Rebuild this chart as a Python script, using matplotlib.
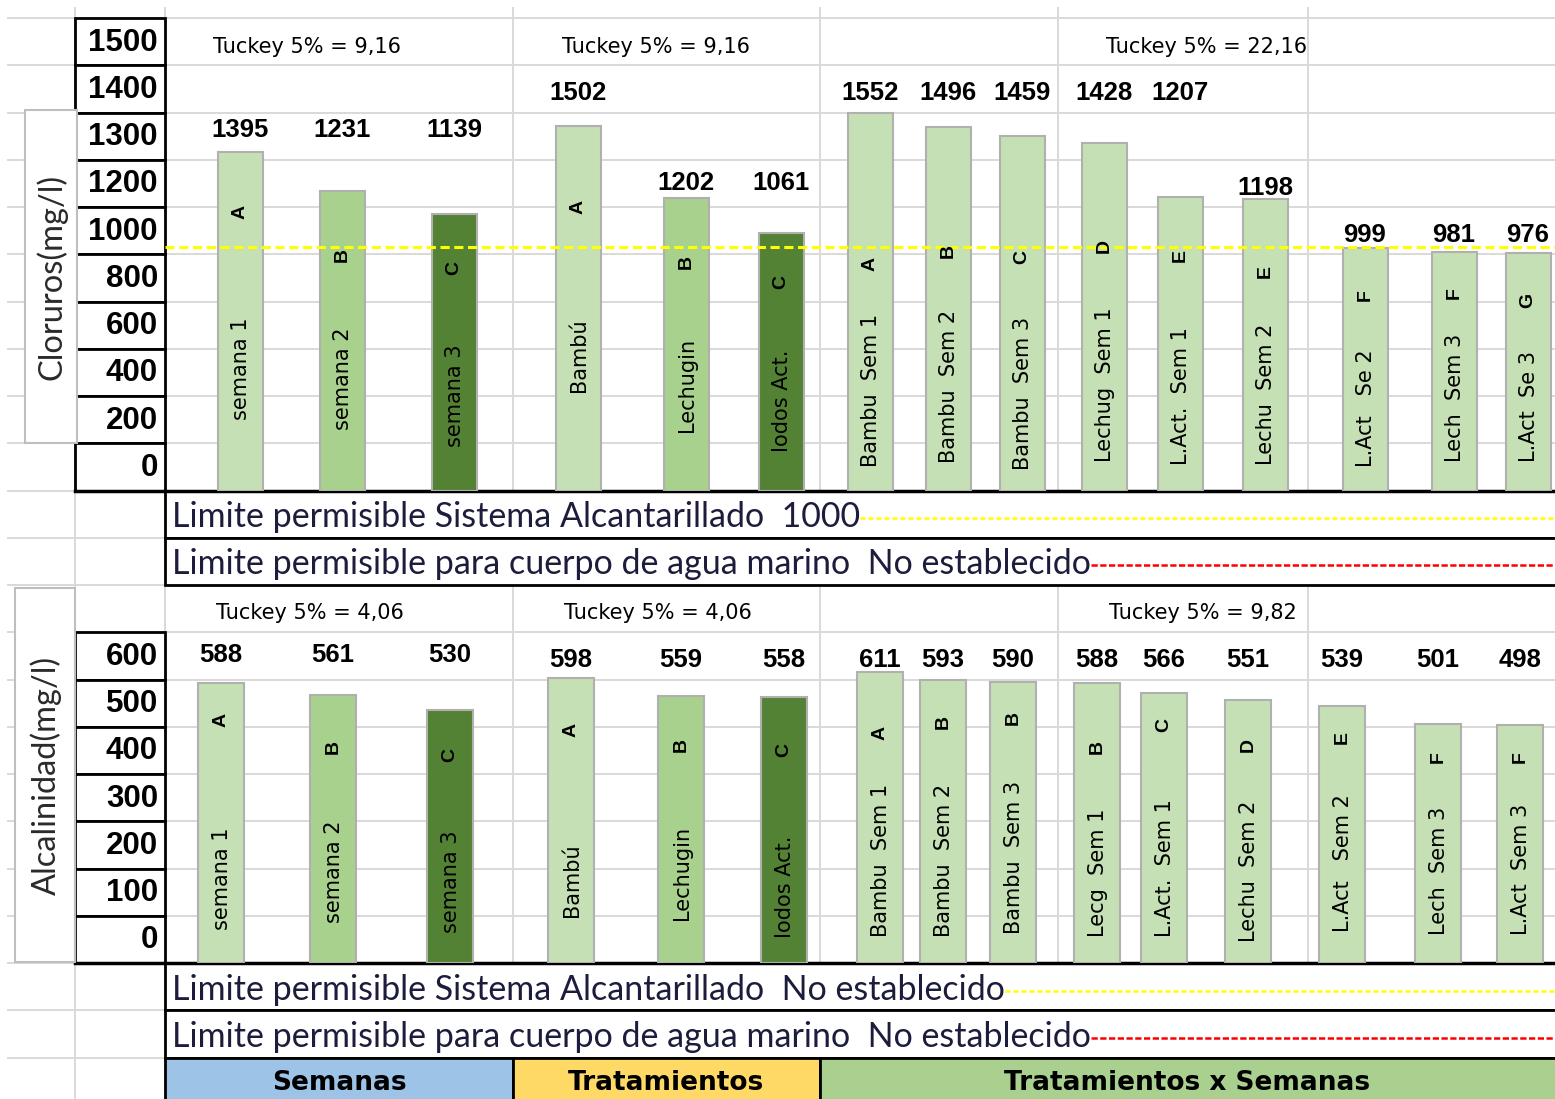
import matplotlib
matplotlib.use("Agg")
import matplotlib.pyplot as plt
from matplotlib.patches import Rectangle

# ---- datos: cloruros ----
cl_names = ["semana 1", "semana 2", "semana 3", "Bambú", "Lechugin", "Iodos Act.",
            "Bambu  Sem 1", "Bambu  Sem 2", "Bambu  Sem 3", "Lechug  Sem 1", "L.Act.  Sem 1",
            "Lechu  Sem 2", "L.Act   Se 2", "Lech  Sem 3", "L.Act  Se 3"]
cl_values = [1395, 1231, 1139, 1502, 1202, 1061, 1552, 1496, 1459, 1428, 1207, 1198, 999, 981, 976]
cl_letters = ["A", "B", "C", "A", "B", "C", "A", "B", "C", "D", "E", "E", "F", "F", "G"]
cl_ticks = ["1500", "1400", "1300", "1200", "1000", "800", "600", "400", "200", "0"]
cl_tukey = ["Tuckey 5% = 9,16", "Tuckey 5% = 9,16", "Tuckey 5% = 22,16"]
cl_limit = 1000
cl_limit_txt = ["Limite permisible Sistema Alcantarillado  1000",
                "Limite permisible para cuerpo de agua marino  No establecido"]

# ---- datos: alcalinidad ----
al_names = ["semana 1", "semana 2", "semana 3", "Bambú", "Lechugin", "Iodos Act.",
            "Bambu  Sem 1", "Bambu  Sem 2", "Bambu  Sem 3", "Lecg  Sem 1", "L.Act.  Sem 1",
            "Lechu  Sem 2", "L.Act   Sem 2", "Lech  Sem 3", "L.Act  Sem 3"]
al_values = [588, 561, 530, 598, 559, 558, 611, 593, 590, 588, 566, 551, 539, 501, 498]
al_letters = ["A", "B", "C", "A", "B", "C", "A", "B", "B", "B", "C", "D", "E", "F", "F"]
al_ticks = ["600", "500", "400", "300", "200", "100", "0"]
al_tukey = ["Tuckey 5% = 4,06", "Tuckey 5% = 4,06", "Tuckey 5% = 9,82"]
al_limit_txt = ["Limite permisible Sistema Alcantarillado  No establecido",
                "Limite permisible para cuerpo de agua marino  No establecido"]

groups = ["Semanas", "Tratamientos", "Tratamientos x Semanas"]
bar_shade = [0, 1, 2, 0, 1, 2] + [0] * 9

# ---- layout (pixels of the sheet) ----
W, H = 1555, 1099
ROW = 47.25
rows_y = [18 + ROW * k for k in range(24)]
cols_x = [75, 165, 513, 820, 1058, 1308]
shades = ["#C5E0B4", "#A9D18E", "#548235"]
group_colors = ["#9DC3E6", "#FFD966", "#A9D08E"]
group_x = [165, 513, 820, W + 5]

cl_x = [240, 342, 454, 578, 686, 781, 870, 948, 1022, 1104, 1180, 1265, 1365, 1454, 1528]
cl_lab_y = [130, 130, 130, 93, 183, 183, 93, 93, 93, 93, 93, 188, 235, 235, 235]
cl_let_y = [212, 255, 268, 207, 262, 282, 264, 251, 257, 246, 255, 272, 295, 293, 300]
cl_name_y = [420, 430, 447, 392, 432, 452, 467, 463, 470, 462, 465, 465, 467, 462, 462]
cl_tukey_x = [307, 656, 1207]

al_x = [221, 333, 450, 571, 681, 784, 880, 943, 1013, 1097, 1164, 1248, 1342, 1438, 1520]
al_lab_y = [655, 655, 655] + [660] * 12
al_let_y = [720, 747, 755, 730, 745, 750, 733, 722, 718, 747, 725, 745, 737, 757, 757]
al_name_y = [930, 923, 933, 917, 920, 938, 937, 937, 934, 937, 937, 942, 932, 935, 935]
al_tukey_x = [310, 658, 1203]

GRID = "#D9D9D9"
NARROW = ["Liberation Sans Narrow", "DejaVu Sans"]
ARIAL = ["Liberation Sans", "DejaVu Sans"]
SHEET = ["Lato", "DejaVu Sans"]

fig = plt.figure(figsize=(W / 100, H / 100), dpi=100)


def pixel_axes(label):
    a = fig.add_axes([0, 0, 1, 1], label=label)
    a.set_xlim(0, W)
    a.set_ylim(H, 0)
    a.axis("off")
    a.patch.set_alpha(0)
    return a


bg = pixel_axes("bg")

# spreadsheet grid
for y in rows_y:
    bg.plot([8, W], [y, y], color=GRID, lw=1.4, zorder=0)
for x in cols_x:
    bg.plot([x, x], [8, H], color=GRID, lw=1.4, zorder=0)


def tick_column(labels, first_row):
    for i, lab in enumerate(labels):
        y0 = rows_y[first_row + i]
        bg.add_patch(Rectangle((75, y0), 90, ROW, facecolor="white",
                               edgecolor="black", lw=2, zorder=2))
        bg.text(158, y0 + ROW / 2 + 1, lab, ha="right", va="center", fontsize=22.5,
                fontweight="bold", family=ARIAL, zorder=3)


def ylabel_box(x0, y0, w, h, text):
    bg.add_patch(Rectangle((x0, y0), w, h, facecolor="white", edgecolor="#BFBFBF",
                           lw=1.5, zorder=4))
    bg.text(x0 + w / 2 + 1, y0 + h / 2, text, rotation=90, ha="center", va="center",
            fontsize=23.5, family=SHEET, color="#2a2a2a", zorder=5)


def limit_rows(texts, first_row, colors, dashes):
    handles = []
    for i, t in enumerate(texts):
        y0 = rows_y[first_row + i]
        bg.add_patch(Rectangle((165, y0), W - 160, ROW, facecolor="white",
                               edgecolor="black", lw=2, zorder=2))
        handles.append(bg.text(172, y0 + ROW / 2 + 3, t, ha="left", va="center",
                               fontsize=24.5, family=SHEET, color="#1c1c3c", zorder=3))
    return list(zip(handles, colors, dashes))


tick_column(cl_ticks, 0)
tick_column(al_ticks, 13)
ylabel_box(25, 110, 52, 333, "Cloruros(mg/l)")
ylabel_box(15, 588, 60, 374, "Alcalinidad(mg/l)")

lines_todo = []
lines_todo += limit_rows(cl_limit_txt, 10, ["#FFFF00", "#FF0000"], [(0, (2, 1.2)), (0, (2.5, 1))])
lines_todo += limit_rows(al_limit_txt, 20, ["#FFFF00", "#FF0000"], [(0, (2, 1.2)), (0, (2.5, 1))])

# baselines of both charts
bg.plot([75, W], [rows_y[10], rows_y[10]], color="black", lw=2.5, zorder=3)
bg.plot([75, W], [rows_y[20], rows_y[20]], color="black", lw=2.5, zorder=3)

# group labels row
for i, g in enumerate(groups):
    bg.add_patch(Rectangle((group_x[i], rows_y[22]), group_x[i + 1] - group_x[i], 60,
                           facecolor=group_colors[i], edgecolor="black", lw=2, zorder=2))
    bg.text((group_x[i] + min(group_x[i + 1], W)) / 2, rows_y[22] + 26, g, ha="center",
            va="center", fontsize=19, fontweight="bold", family=NARROW, zorder=3)

# Tukey notes
for x, t in zip(cl_tukey_x, cl_tukey):
    bg.text(x, 47, t, ha="center", va="center", fontsize=15, family=NARROW)
for x, t in zip(al_tukey_x, al_tukey):
    bg.text(x, 613, t, ha="center", va="center", fontsize=15, family=NARROW)


# ---- bar charts ----
def bar_axes(top_px, bottom_px, ymax):
    a = fig.add_axes([165 / W, 1 - bottom_px / H, (W - 165) / W, (bottom_px - top_px) / H])
    a.set_xlim(165, W)
    a.set_ylim(0, ymax)
    a.axis("off")
    a.patch.set_alpha(0)
    return a


ax1 = bar_axes(rows_y[0], rows_y[10], (rows_y[10] - rows_y[0]) / 0.243)
ax1.bar(cl_x, cl_values, width=45, color=[shades[s] for s in bar_shade],
        edgecolor="#B0B0B0", linewidth=1.5, zorder=2)
ax1.axhline(cl_limit, color="#FFFF00", lw=2.2, ls=(0, (3, 1.5)), zorder=3)

ax2 = bar_axes(rows_y[12], rows_y[20], (rows_y[20] - rows_y[12]) / 0.477)
ax2.bar(al_x, al_values, width=46, color=[shades[s] for s in bar_shade],
        edgecolor="#B0B0B0", linewidth=1.5, zorder=2)

over = pixel_axes("over")


def bar_texts(xs, values, lab_y, letters, let_y, names, name_y):
    for i, x in enumerate(xs):
        over.text(x, lab_y[i], str(values[i]), ha="center", va="center", fontsize=18.5,
                  fontweight="bold", family=ARIAL)
        over.text(x, let_y[i], letters[i], rotation=90, ha="center", va="center",
                  fontsize=14, fontweight="bold", family=ARIAL)
        # va is in screen space: the lower end of the rotated name sits at name_y
        over.text(x + 1, name_y[i], names[i], rotation=90, ha="center", va="bottom",
                  fontsize=15, family=["DejaVu Sans"])


bar_texts(cl_x, cl_values, cl_lab_y, cl_letters, cl_let_y, cl_names, cl_name_y)
bar_texts(al_x, al_values, al_lab_y, al_letters, al_let_y, al_names, al_name_y)

# dashed limit markers after the limit texts
fig.canvas.draw()
r = fig.canvas.get_renderer()
inv = bg.transData.inverted()
for txt, col, ds in lines_todo:
    bb = txt.get_window_extent(r)
    x_end = inv.transform((bb.x1, bb.y0))[0]
    y = txt.get_position()[1] + 1
    bg.plot([x_end, W], [y, y], color=col, lw=1.8, ls=ds, zorder=3)

fig.savefig("out.png", dpi=100)
